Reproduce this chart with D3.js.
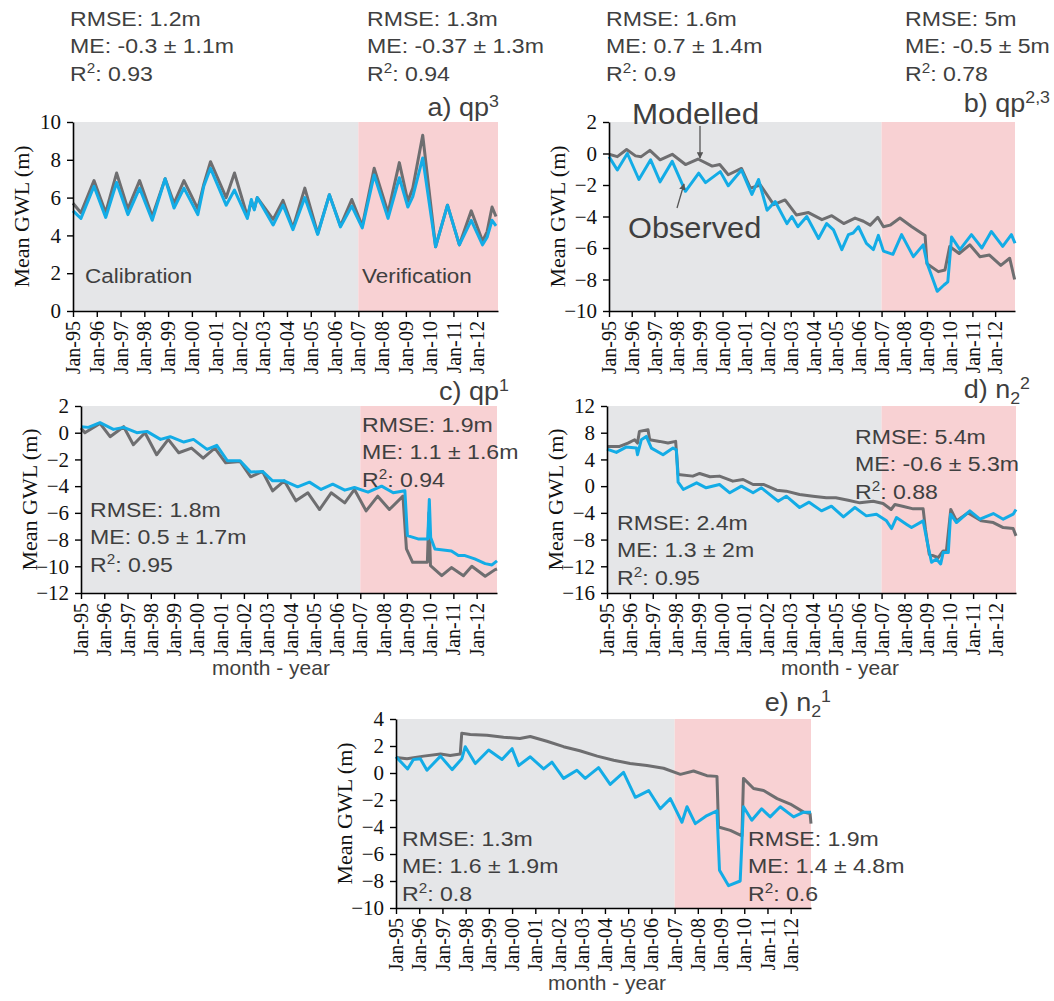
<!DOCTYPE html>
<html>
<head>
<meta charset="utf-8">
<script src="https://cdn.jsdelivr.net/npm/d3@7"></script>
<style>
  body { margin: 0; background: #fff; }
  svg { display: block; }
</style>
</head>
<body>
<svg id="fig" width="1054" height="1001"></svg>
<script>
// ---- time axis: months counted from Jan-95 ----
const yearTicks = [0, 12, 24, 36, 48, 60, 72, 84, 96, 108, 120, 132, 144, 156, 168, 180, 192, 204];
const yearLabels = ["Jan-95", "Jan-96", "Jan-97", "Jan-98", "Jan-99", "Jan-00", "Jan-01", "Jan-02", "Jan-03",
  "Jan-04", "Jan-05", "Jan-06", "Jan-07", "Jan-08", "Jan-09", "Jan-10", "Jan-11", "Jan-12"];
const lastMonth = 214.5;
const verificationStart = 144; // Jan-07

// ---- a) qp3 ----
const aMonths = [0, 4, 10.6, 16.5, 22, 27.7, 33.6, 40, 46.5, 51, 56, 63, 66, 69.4, 77.3, 81.5, 88, 90, 91.5, 93,
  101, 106, 111, 117, 123.5, 129.4, 135, 140.7, 146, 152, 159, 164.7, 169, 171.5, 176.5, 183, 189, 195, 201, 206.7, 209, 211.5, 213.5];
const aObserved = [5.3, 4.9, 6.6, 4.95, 6.8, 5.1, 6.5, 4.8, 7.0, 5.45, 6.5, 5.1, 6.6, 7.55, 5.6, 6.4, 4.9, 5.9, 5.35, 6.0,
  4.55, 5.6, 4.3, 6.0, 4.05, 6.15, 4.45, 5.55, 4.4, 7.2, 4.9, 7.05, 5.5, 6.05, 8.1, 3.4, 5.6, 3.5, 4.8, 3.5, 3.9, 4.8, 4.5];
const aModelled = [5.7, 5.2, 6.9, 5.2, 7.3, 5.4, 6.9, 5.0, 7.0, 5.7, 6.9, 5.4, 6.7, 7.9, 6.0, 7.3, 5.0, 5.8, 5.4, 6.0,
  4.85, 5.85, 4.4, 6.5, 4.1, 6.15, 4.5, 5.9, 4.5, 7.55, 5.2, 7.85, 5.8, 6.5, 9.3, 3.4, 5.6, 3.5, 5.3, 3.7, 4.2, 5.5, 5.0];

// ---- b) qp2,3 ----
const bObsMonths = [0, 4.4, 9.7, 15.8, 22, 27, 33.4, 40.4, 47.4, 51, 58.8, 63, 70, 75.5, 79, 83.5, 87.8, 94, 96.6, 99.8,
  104.5, 110.7, 115, 118.6, 123, 126.5, 129, 131.8, 136, 139.7, 142.3, 145, 150, 154.6, 160.8, 166, 168, 173.4, 177, 179,
  181, 185.4, 191.5, 197, 202, 208, 212.6, 214.5];
const bObserved = [-0.2, -1.05, 0.0, -1.65, -0.4, -1.8, -0.5, -2.4, -1.25, -1.85, -1.15, -2.05, -1.05, -2.6, -1.65, -3.6, -3.05, -4.45, -4.0, -4.65,
  -4.0, -5.4, -4.45, -4.85, -6.1, -5.15, -5.05, -4.65, -5.7, -6.1, -5.2, -6.2, -6.4, -5.15, -6.55, -5.8, -6.95, -8.75, -8.35, -8.15,
  -5.3, -6.1, -5.15, -6.0, -4.95, -5.9, -5.15, -5.7];
const bModMonths = [0, 4.4, 9.3, 14, 17, 21.6, 27, 33.4, 40.4, 47, 54.5, 58.5, 63, 70, 74.7, 80, 87, 93, 99, 105.4,
  112.5, 117.7, 124, 130, 134.4, 138, 142, 145, 148.5, 153.7, 160, 165, 167, 168, 174, 177.5, 180, 185, 190.6, 196,
  201, 207, 211.7, 214.3];
const bModelled = [-0.05, -0.2, 0.25, -0.15, -0.2, 0.2, -0.4, -0.05, -0.7, -0.35, -0.8, -0.7, -1.35, -0.95, -2.2, -2.0, -3.25, -2.95, -3.9, -3.75,
  -4.2, -3.95, -4.45, -4.1, -4.3, -4.55, -4.05, -4.65, -4.55, -4.1, -4.65, -5.05, -5.2, -7.0, -7.5, -7.4, -5.9, -6.35, -5.8, -6.55,
  -6.45, -7.1, -6.65, -8.0];

// ---- c) qp1 ----
const cObsMonths = [0, 3.8, 9.8, 16.7, 22, 28.8, 34, 41, 46, 53, 58, 65, 70, 75.5, 82, 87.5, 93.6, 98.8, 104.8, 111.7,
  117.8, 123.8, 129.8, 136, 141, 148, 155, 161, 167, 168.3, 173.8, 178.8, 179.6, 180.3, 182.5, 191, 194.6, 198, 203, 208.4,
  211.9, 214.5];
const cObserved = [0.45, 0.4, 0.75, 0.25, 0.4, 0, 0.1, -0.5, -0.3, -0.7, -0.5, -1.25, -0.95, -2.1, -2.1, -2.95, -2.9, -3.6, -3.6, -4.05,
  -3.7, -4.25, -3.85, -4.3, -4.1, -4.45, -4.0, -4.5, -4.35, -7.7, -7.95, -7.95, -5.0, -7.85, -8.7, -8.85, -9.2, -9.2, -9.45, -9.8,
  -9.9, -9.6];
const cModMonths = [0, 2, 9.8, 15, 22, 27, 33, 39, 45, 50.4, 57, 63, 69, 74.6, 82, 87.5, 93.6, 98.8, 104.8, 110.8,
  117, 123, 129, 136, 141, 147, 153, 159, 166, 167.8, 171, 178.6, 179.4, 180.2, 186, 191, 197.2, 201.5, 208.4, 213.5, 214.5];
const cModelled = [0.35, 0, 0.7, -0.3, 0.45, -0.9, 0, -1.65, -0.5, -1.5, -1.15, -1.9, -1.15, -2.25, -2.15, -3.3, -2.9, -4.35, -3.6, -5.1,
  -4.5, -5.75, -4.5, -5.25, -4.25, -5.85, -4.75, -5.75, -4.75, -8.7, -9.7, -9.7, -6.0, -9.95, -10.7, -10.1, -10.7, -10.0, -10.75, -10.25, -10.2];

// ---- d) n2 2 ----
const dObsMonths = [0, 4.9, 10, 15.4, 16, 18, 20.6, 23.3, 29.4, 34.6, 36.4, 37.3, 40, 47, 52, 59, 64.4, 70.5, 76.6, 81,
  89.7, 94, 101, 106, 112.5, 117.7, 124, 130, 136, 141.3, 146.6, 149.2, 151.8, 157, 159.7, 165.8, 168, 170.2, 172.8, 175,
  176.3, 179, 180.2, 183.3, 190.3, 195.6, 202.6, 207.8, 213, 214.5];
const dObserved = [5.55, 5.05, 5.85, 5.7, 4.7, 6.95, 7.45, 5.7, 4.7, 5.7, 5.45, 0.6, -0.5, 0.5, -0.25, 0.25, -1.0, 0, -1.0, -0.25,
  -2.25, -1.5, -3.2, -2.4, -3.7, -3.0, -4.6, -3.2, -4.45, -4.2, -5.2, -6.35, -4.7, -5.7, -6.2, -5.2, -8.45, -11.4, -10.9, -11.65,
  -9.95, -9.95, -4.2, -5.45, -3.7, -4.95, -4.1, -4.95, -4.2, -3.5];
const dModMonths = [0, 6.6, 11, 14.5, 16, 17, 21.5, 22.4, 27.6, 32, 36, 37.3, 45, 48.6, 54, 59, 66, 71.4, 76.6, 82,
  89, 94, 101, 108, 115, 120, 126.5, 132.6, 139.6, 144.8, 149, 151, 155, 160.6, 165.8, 167, 169, 173.7, 176.3, 178,
  180.3, 183.3, 189.4, 196.4, 202.6, 207.8, 213, 214.5];
const dModelled = [5.95, 5.95, 6.45, 6.95, 6.45, 8.2, 8.45, 6.95, 6.7, 6.45, 6.7, 1.75, 1.5, 1.9, 1.4, 1.5, 0.75, 1.0, 0.25, 0.25,
  -0.6, -0.75, -1.25, -1.5, -1.75, -1.75, -2.1, -2.5, -2.25, -2.6, -3.5, -2.75, -3.0, -3.4, -3.4, -6.45, -10.2, -10.7, -9.7, -9.7,
  -3.5, -5.2, -4.0, -5.2, -5.45, -6.2, -6.35, -7.45];

// ---- e) n2 1 ----
const eObsMonths = [0, 6, 9, 12.6, 16, 23, 29, 34, 35.8, 41, 47.9, 54.8, 60, 63.4, 69.4, 76.3, 80.6, 86.6, 93.5, 97.8,
  104.7, 110.7, 117.6, 123.7, 130.6, 136.6, 141.8, 147.8, 150.4, 154.7, 160.7, 165.9, 167.2, 171.9, 177.9, 179.6, 183.9, 189, 193.4, 198.6,
  205.5, 210.7, 214.5];
const eObserved = [1.2, 0.3, 1.0, 1.05, 0.2, 1.25, 0.25, 1.05, 1.95, 0.7, 1.7, 1.0, 1.8, 0.55, 1.2, 0.3, 0.8, -0.4, 0.2, -0.4,
  0.4, -0.85, 0.05, -1.8, -1.3, -2.65, -1.9, -3.65, -2.5, -3.75, -3.15, -2.8, -7.2, -8.35, -8.0, -2.5, -3.5, -2.65, -3.25, -2.5,
  -3.25, -2.9, -2.9];
const eModMonths = [0, 5.7, 14.3, 23, 28, 33.2, 34, 38.4, 47, 55.6, 64, 69.4, 78, 86.6, 95, 104, 112.5, 121, 129.7, 138.3,
  147, 153.8, 160.7, 165.9, 166.7, 172.8, 178.8, 179.6, 184.8, 190, 197, 203.8, 210.7, 214, 214.5];
const eModelled = [1.15, 1.05, 1.25, 1.4, 1.3, 1.4, 2.95, 2.85, 2.8, 2.65, 2.55, 2.7, 2.35, 1.95, 1.65, 1.25, 0.95, 0.7, 0.55, 0.35,
  -0.1, 0.15, -0.2, -0.25, -4.0, -4.25, -4.65, -0.4, -1.15, -1.3, -1.9, -2.3, -2.9, -3.0, -3.75];

// ---- goodness-of-fit statistics ----
const statsA = [["RMSE: 1.2m", "-0.3 ± 1.1m", "0.93"], ["RMSE: 1.3m", "-0.37 ± 1.3m", "0.94"]];
const statsB = [["RMSE: 1.6m", "0.7 ± 1.4m", "0.9"], ["RMSE: 5m", "-0.5 ± 5m", "0.78"]];
const statsC = [["RMSE: 1.8m", "0.5 ± 1.7m", "0.95"], ["RMSE: 1.9m", "1.1 ± 1.6m", "0.94"]];
const statsD = [["RMSE: 2.4m", "1.3 ± 2m", "0.95"], ["RMSE: 5.4m", "-0.6 ± 5.3m", "0.88"]];
const statsE = [["RMSE: 1.3m", "1.6 ± 1.9m", "0.8"], ["RMSE: 1.9m", "1.4 ± 4.8m", "0.6"]];

// ---- styling ----
const SANS = "'Liberation Sans', Arial, sans-serif";
const SERIF = "'Liberation Serif', 'Times New Roman', serif";
const TEXT = "#3f3f40";
const OBS = "#13ace6";
const MOD = "#6e6e70";
const CAL_FILL = "#e5e6e8";
const VER_FILL = "#f8d1d3";
const STRETCH = 1.1;

const svg = d3.select("#fig");

// text with optional sub/superscript runs; drawn inside a horizontally stretched group
function richText(parent, x, y, parts, size, anchor, sx) {
  const g = parent.append("g").attr("transform", `translate(${x},${y}) scale(${sx || STRETCH},1)`);
  const t = g.append("text")
    .attr("x", 0).attr("y", 0)
    .attr("text-anchor", anchor || "start")
    .style("font-family", SANS)
    .style("font-size", size + "px")
    .attr("fill", TEXT);
  let shift = 0;
  parts.forEach(p => {
    const target = p.sup ? -0.36 * size : p.sub ? 0.22 * size : 0;
    t.append("tspan")
      .attr("dy", target - shift)
      .style("font-size", (p.sup || p.sub ? 0.66 * size : size) + "px")
      .text(p.t);
    shift = target;
  });
  return t;
}

function statsBlock(parent, x, y0, s) {
  const size = 21, gap = 27.3;
  richText(parent, x, y0, [{ t: s[0] }], size);
  richText(parent, x, y0 + gap, [{ t: "ME: " + s[1] }], size);
  richText(parent, x, y0 + 2 * gap, [{ t: "R" }, { t: "2", sup: true }, { t: ": " + s[2] }], size);
}

const panels = [
  { left: 73, top: 122, width: 425, height: 189, yDomain: [0, 10], yTicks: [0, 2, 4, 6, 8, 10],
    obsM: aMonths, obs: aObserved, modM: aMonths, mod: aModelled,
    title: [{ t: "a) qp" }, { t: "3", sup: true }], titleX: 499, titleY: 116 },
  { left: 609, top: 122, width: 406, height: 189, yDomain: [-10, 2], yTicks: [-10, -8, -6, -4, -2, 0, 2],
    obsM: bObsMonths, obs: bObserved, modM: bModMonths, mod: bModelled,
    title: [{ t: "b) qp" }, { t: "2,3", sup: true }], titleX: 1050, titleY: 112 },
  { left: 81, top: 406, width: 416, height: 187, yDomain: [-12, 2], yTicks: [-12, -10, -8, -6, -4, -2, 0, 2],
    obsM: cObsMonths, obs: cObserved, modM: cModMonths, mod: cModelled,
    title: [{ t: "c) qp" }, { t: "1", sup: true }], titleX: 509, titleY: 400, xTitle: 271 },
  { left: 607, top: 406, width: 409, height: 187, yDomain: [-16, 12], yTicks: [-16, -12, -8, -4, 0, 4, 8, 12],
    obsM: dObsMonths, obs: dObserved, modM: dModMonths, mod: dModelled,
    title: [{ t: "d) n" }, { t: "2", sub: true }, { t: "2", sup: true }], titleX: 1030, titleY: 398, xTitle: 840 },
  { left: 396, top: 719, width: 415, height: 189, yDomain: [-10, 4], yTicks: [-10, -8, -6, -4, -2, 0, 2, 4],
    obsM: eObsMonths, obs: eObserved, modM: eModMonths, mod: eModelled,
    title: [{ t: "e) n" }, { t: "2", sub: true }, { t: "1", sup: true }], titleX: 831, titleY: 711, xTitle: 607 }
];

panels.forEach(p => {
  const g = svg.append("g").attr("transform", `translate(${p.left},${p.top})`);
  const x = d3.scaleLinear().domain([0, lastMonth]).range([0, p.width]);
  const y = d3.scaleLinear().domain(p.yDomain).range([p.height, 0]);

  // calibration / verification periods
  g.append("rect").attr("x", x(0)).attr("y", 0)
    .attr("width", x(verificationStart) - x(0)).attr("height", p.height).attr("fill", CAL_FILL);
  g.append("rect").attr("x", x(verificationStart)).attr("y", 0)
    .attr("width", x(lastMonth) - x(verificationStart)).attr("height", p.height).attr("fill", VER_FILL);

  const line = d3.line().x(d => x(d[0])).y(d => y(d[1]));
  g.append("path").datum(d3.zip(p.modM, p.mod)).attr("d", line)
    .attr("fill", "none").attr("stroke", MOD).attr("stroke-width", 3).attr("stroke-linejoin", "round");
  g.append("path").datum(d3.zip(p.obsM, p.obs)).attr("d", line)
    .attr("fill", "none").attr("stroke", OBS).attr("stroke-width", 3).attr("stroke-linejoin", "round");

  // y axis
  const ya = g.append("g").call(d3.axisLeft(y).tickValues(p.yTicks).tickSize(6).tickSizeOuter(0).tickPadding(6));
  ya.select(".domain").attr("stroke", "#000").attr("stroke-width", 1.6);
  ya.selectAll(".tick line").attr("stroke", "#000").attr("stroke-width", 1.4);
  ya.selectAll("text").style("font-family", SERIF).style("font-size", "21px").attr("fill", "#111");

  // x axis
  const xa = g.append("g").attr("transform", `translate(0,${p.height})`)
    .call(d3.axisBottom(x).tickValues(yearTicks).tickFormat((d, i) => yearLabels[i]).tickSize(6).tickSizeOuter(0));
  xa.select(".domain").attr("stroke", "#000").attr("stroke-width", 1.6);
  xa.selectAll(".tick line").attr("stroke", "#000").attr("stroke-width", 1.4);
  xa.selectAll("text")
    .style("font-family", SERIF).style("font-size", "20px").attr("fill", "#111")
    .attr("transform", "rotate(-90)").attr("text-anchor", "end")
    .attr("x", -10).attr("y", 0).attr("dy", "0.33em");

  // y axis title
  svg.append("text")
    .attr("transform", `translate(${p.left - 52},${p.top + p.height / 2}) rotate(-90)`)
    .attr("text-anchor", "middle").attr("dy", "0.35em")
    .style("font-family", SERIF).style("font-size", "22px").attr("fill", "#111")
    .text("Mean GWL (m)");

  // panel title
  richText(svg, p.titleX, p.titleY, p.title, 25, "end", 1.08);

  if (p.xTitle) {
    richText(svg, p.xTitle, p.top + p.height + 82, [{ t: "month - year" }], 20, "middle", 1.05);
  }
});

// statistics, calibration (left) and verification (right)
statsBlock(svg, 70, 26, statsA[0]);
statsBlock(svg, 367, 26, statsA[1]);
statsBlock(svg, 606, 26, statsB[0]);
statsBlock(svg, 905, 26, statsB[1]);
statsBlock(svg, 90, 517, statsC[0]);
statsBlock(svg, 362, 432, statsC[1]);
statsBlock(svg, 617, 530, statsD[0]);
statsBlock(svg, 855, 444, statsD[1]);
statsBlock(svg, 402, 846, statsE[0]);
statsBlock(svg, 748, 846, statsE[1]);

// period labels in panel a
richText(svg, 85, 283, [{ t: "Calibration" }], 21, "start", 1.07);
richText(svg, 362, 283, [{ t: "Verification" }], 21, "start", 1.07);

// series labels with leader arrows in panel b
svg.append("defs").append("marker")
  .attr("id", "tip").attr("viewBox", "0 0 10 10").attr("refX", 9).attr("refY", 5)
  .attr("markerWidth", 5).attr("markerHeight", 5).attr("orient", "auto")
  .append("path").attr("d", "M0,0 L10,5 L0,10 z").attr("fill", "#555");
richText(svg, 632, 124, [{ t: "Modelled" }], 29, "start", 1.08);
richText(svg, 628, 238, [{ t: "Observed" }], 29, "start", 1.06);
svg.append("line").attr("x1", 700).attr("y1", 126).attr("x2", 700).attr("y2", 158)
  .attr("stroke", "#555").attr("stroke-width", 1.3).attr("marker-end", "url(#tip)");
svg.append("line").attr("x1", 677).attr("y1", 208).attr("x2", 684).attr("y2", 184)
  .attr("stroke", "#555").attr("stroke-width", 1.3).attr("marker-end", "url(#tip)");
</script>
</body>
</html>
